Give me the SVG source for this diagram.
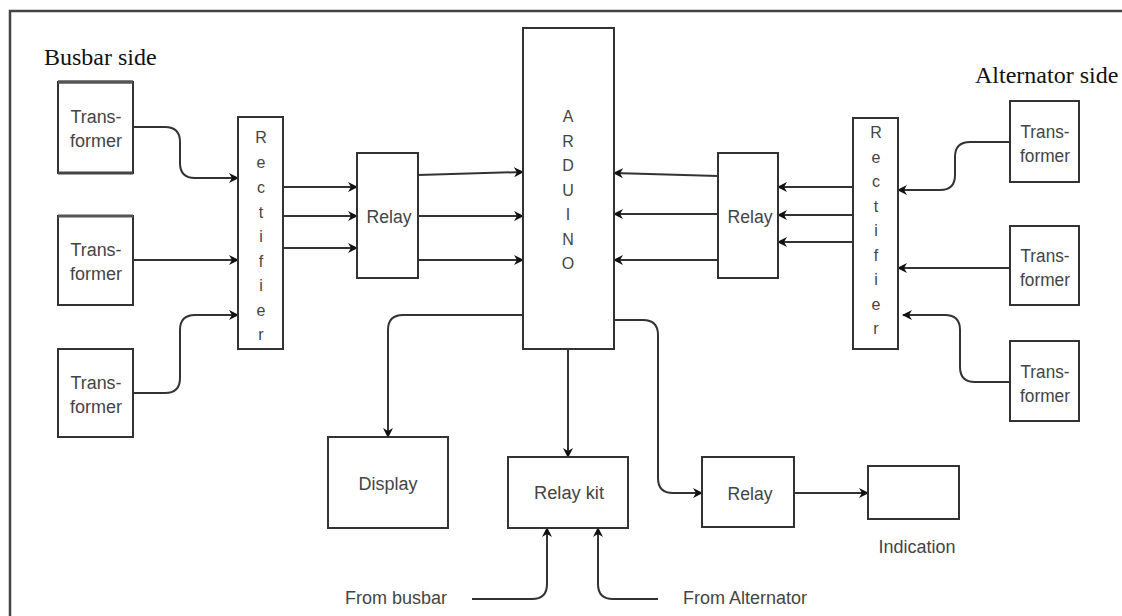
<svg xmlns="http://www.w3.org/2000/svg" width="1122" height="616" viewBox="0 0 1122 616">
<defs>
<marker id="ah" markerWidth="10" markerHeight="10" refX="9" refY="5" orient="auto" markerUnits="userSpaceOnUse">
<path d="M0,0 L10,5 L0,10 L3,5 Z" fill="#111"/>
</marker>
<style>
.box{fill:#fff;stroke:#333;stroke-width:2}
.lbl{font-family:"Liberation Sans",Arial,sans-serif;font-size:18px;fill:#444;text-anchor:middle}
.side{font-family:"Liberation Serif","Times New Roman",serif;font-size:24px;fill:#111}
.c{fill:none;stroke:#333;stroke-width:2;marker-end:url(#ah)}
.v{font-family:"Liberation Sans",Arial,sans-serif;font-size:16px;fill:#444;text-anchor:middle}
</style>
</defs>
<rect width="1122" height="616" fill="#fff"/>
<rect x="10" y="11" width="1130" height="630" fill="none" stroke="#444" stroke-width="2.5"/>
<text class="side" x="44" y="65">Busbar side</text>
<text class="side" x="975" y="83">Alternator side</text>

<g id="connectors">
<path class="c" d="M133,127 H165 Q180,127 180,142 V163 Q180,178 195,178 H238"/>
<path class="c" d="M133,260 H238"/>
<path class="c" d="M133,393 H165 Q180,393 180,378 V330 Q180,315 195,315 H238"/>
<path class="c" d="M283,187 H357"/>
<path class="c" d="M283,216 H357"/>
<path class="c" d="M283,248 H357"/>
<path class="c" d="M418,175 L523,172"/>
<path class="c" d="M418,216 H523"/>
<path class="c" d="M418,260 H523"/>
<path class="c" d="M718,176 L614,173"/>
<path class="c" d="M718,214 H614"/>
<path class="c" d="M718,260 H614"/>
<path class="c" d="M853,187 H778"/>
<path class="c" d="M853,215 H778"/>
<path class="c" d="M853,242 H778"/>
<path class="c" d="M1010,142 H970 Q955,142 955,157 V175 Q955,190 940,190 H898"/>
<path class="c" d="M1010,268 H898"/>
<path class="c" d="M1010,382 H975 Q960,382 960,367 V330 Q960,315 945,315 H903"/>
<path class="c" d="M523,315 H403 Q388,315 388,330 V437"/>
<path class="c" d="M568,349 V457"/>
<path class="c" d="M614,320 H643 Q658,320 658,335 V478 Q658,493 673,493 H702"/>
<path class="c" d="M794,493 H868"/>
<path class="c" d="M472,599 H532 Q547,599 547,584 V528"/>
<path class="c" d="M658,599 H613 Q598,599 598,584 V528"/>
</g>

<g id="t1"><rect class="box" x="58" y="82" width="75" height="91"/><line x1="58" y1="82" x2="133" y2="82" stroke="#555" stroke-width="3.5"/><line x1="58" y1="173" x2="133" y2="173" stroke="#444" stroke-width="3"/><text class="lbl" x="96" y="123" textLength="51" lengthAdjust="spacingAndGlyphs">Trans-</text><text class="lbl" x="96" y="147" textLength="52" lengthAdjust="spacingAndGlyphs">former</text></g>
<g id="t2"><rect class="box" x="58" y="216" width="75" height="89"/><line x1="58" y1="216" x2="133" y2="216" stroke="#555" stroke-width="3"/><text class="lbl" x="96" y="256" textLength="51" lengthAdjust="spacingAndGlyphs">Trans-</text><text class="lbl" x="96" y="280" textLength="52" lengthAdjust="spacingAndGlyphs">former</text></g>
<g id="t3"><rect class="box" x="58" y="349" width="75" height="88"/><text class="lbl" x="96" y="389" textLength="51" lengthAdjust="spacingAndGlyphs">Trans-</text><text class="lbl" x="96" y="413" textLength="52" lengthAdjust="spacingAndGlyphs">former</text></g>

<g id="rect-left"><rect class="box" x="238" y="117" width="45" height="232"/>
<text class="v" x="261" y="143">R</text><text class="v" x="261" y="168">e</text><text class="v" x="261" y="193">c</text><text class="v" x="261" y="218">t</text><text class="v" x="261" y="242">i</text><text class="v" x="261" y="267">f</text><text class="v" x="261" y="291">i</text><text class="v" x="261" y="316">e</text><text class="v" x="261" y="340">r</text></g>

<g id="relay-left"><rect class="box" x="357" y="153" width="61" height="125"/><text class="lbl" x="389" y="223" textLength="45" lengthAdjust="spacingAndGlyphs">Relay</text></g>

<g id="arduino"><rect class="box" x="523" y="28" width="91" height="321"/>
<text class="v" x="568" y="122">A</text><text class="v" x="568" y="147">R</text><text class="v" x="568" y="171">D</text><text class="v" x="568" y="196">U</text><text class="v" x="568" y="220">I</text><text class="v" x="568" y="245">N</text><text class="v" x="568" y="269">O</text></g>

<g id="relay-right"><rect class="box" x="718" y="153" width="60" height="125"/><text class="lbl" x="750" y="223" textLength="45" lengthAdjust="spacingAndGlyphs">Relay</text></g>

<g id="rect-right"><rect class="box" x="853" y="118" width="45" height="231"/>
<text class="v" x="876" y="138">R</text><text class="v" x="876" y="163">e</text><text class="v" x="876" y="187">c</text><text class="v" x="876" y="212">t</text><text class="v" x="876" y="236">i</text><text class="v" x="876" y="261">f</text><text class="v" x="876" y="285">i</text><text class="v" x="876" y="310">e</text><text class="v" x="876" y="334">r</text></g>

<g id="t4"><rect class="box" x="1010" y="101" width="69" height="81"/><text class="lbl" x="1045" y="138" textLength="49" lengthAdjust="spacingAndGlyphs">Trans-</text><text class="lbl" x="1045" y="162" textLength="50" lengthAdjust="spacingAndGlyphs">former</text></g>
<g id="t5"><rect class="box" x="1010" y="226" width="69" height="79"/><text class="lbl" x="1045" y="262" textLength="49" lengthAdjust="spacingAndGlyphs">Trans-</text><text class="lbl" x="1045" y="286" textLength="50" lengthAdjust="spacingAndGlyphs">former</text></g>
<g id="t6"><rect class="box" x="1010" y="341" width="69" height="80"/><text class="lbl" x="1045" y="378" textLength="49" lengthAdjust="spacingAndGlyphs">Trans-</text><text class="lbl" x="1045" y="402" textLength="50" lengthAdjust="spacingAndGlyphs">former</text></g>

<g id="display"><rect class="box" x="328" y="437" width="120" height="91"/><text class="lbl" x="388" y="490" textLength="59" lengthAdjust="spacingAndGlyphs">Display</text></g>
<g id="relay-kit"><rect class="box" x="508" y="457" width="120" height="71"/><text class="lbl" x="569" y="499" textLength="70" lengthAdjust="spacingAndGlyphs">Relay kit</text></g>
<g id="relay-bottom"><rect class="box" x="702" y="457" width="92" height="70"/><text class="lbl" x="750" y="500" textLength="45" lengthAdjust="spacingAndGlyphs">Relay</text></g>
<g id="indication"><rect class="box" x="868" y="466" width="91" height="53"/><text class="lbl" x="917" y="553" textLength="77" lengthAdjust="spacingAndGlyphs">Indication</text></g>
<g id="from-busbar"><text class="lbl" x="396" y="604" textLength="102" lengthAdjust="spacingAndGlyphs">From busbar</text></g>
<g id="from-alternator"><text class="lbl" x="745" y="604" textLength="124" lengthAdjust="spacingAndGlyphs">From Alternator</text></g>
</svg>
